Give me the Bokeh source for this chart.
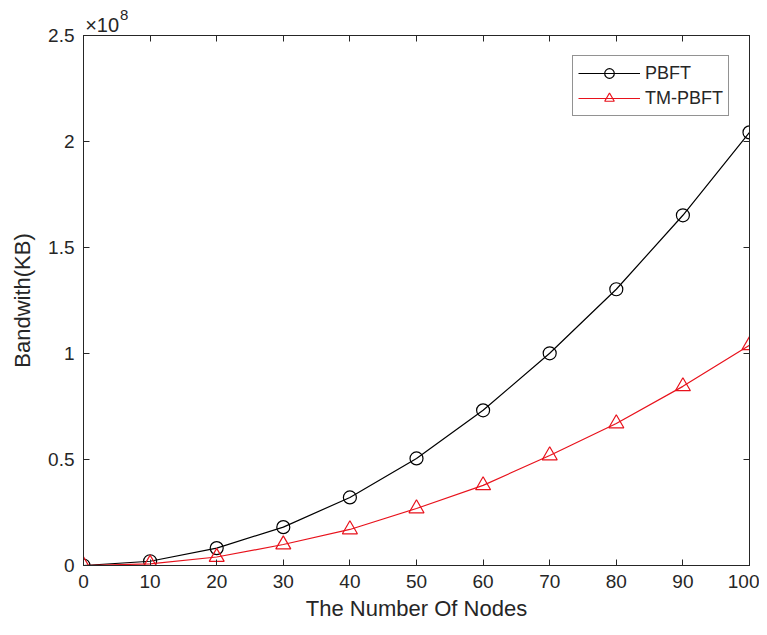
from bokeh.plotting import figure
from bokeh.models import (FixedTicker, LinearAxis, Legend, LegendItem,
                          CustomJSTickFormatter, Range1d)
from bokeh.embed import file_html
from bokeh.resources import INLINE

# ---- data (bandwidth in units of 1e8 KB) ----
nodes = [0, 10, 20, 30, 40, 50, 60, 70, 80, 90, 100]
pbft_bandwidth = [0, 0.02, 0.082, 0.181, 0.321, 0.505, 0.732, 1.001, 1.303, 1.652, 2.043]
tm_pbft_bandwidth = [0, 0.008, 0.04, 0.099, 0.17, 0.269, 0.378, 0.519, 0.670, 0.845, 1.039]
x_ticks = [0, 10, 20, 30, 40, 50, 60, 70, 80, 90, 100]
y_ticks = [0, 0.5, 1, 1.5, 2, 2.5]
series_names = ["PBFT", "TM-PBFT"]
exponent_base = "×10"
exponent_power = "8"
exponent_base_at = 2.8     # x (data) where the "×10" text is centred
exponent_power_at = 6.1    # x (data) where the superscript "8" is centred

FONT = "Liberation Sans"
TXT = "#262626"
RED = "#e8121c"

p = figure(width=759, height=627, x_range=Range1d(0, 100), y_range=Range1d(0, 2.5),
           output_backend="svg", toolbar_location=None,
           min_border_left=83, min_border_right=10, min_border_top=35, min_border_bottom=62)
p.background_fill_color = "white"
p.border_fill_color = "white"
p.outline_line_color = TXT
p.outline_line_width = 1
p.xgrid.visible = False
p.ygrid.visible = False

fmt = CustomJSTickFormatter(code="return tick.toString();")
blank = CustomJSTickFormatter(code="return '';")

def style(ax, ticks, formatter, labels=True):
    ax.ticker = FixedTicker(ticks=ticks)
    ax.formatter = formatter
    ax.axis_line_color = TXT
    ax.axis_line_width = 1
    ax.major_tick_line_color = TXT
    ax.major_tick_in = 6
    ax.major_tick_out = 0
    ax.minor_tick_line_color = None
    ax.major_label_text_font = FONT
    ax.major_label_text_color = TXT
    ax.major_label_text_font_size = "19px" if labels else "0px"
    if not labels:
        ax.major_label_standoff = 0

style(p.xaxis[0], x_ticks, fmt)
style(p.yaxis[0], y_ticks, fmt)
p.xaxis[0].major_label_standoff = 9
p.yaxis[0].major_label_standoff = 9
p.xaxis.axis_label = "The Number Of Nodes"
p.yaxis.axis_label = "Bandwith(KB)"
for ax in (p.xaxis[0], p.yaxis[0]):
    ax.axis_label_text_font = FONT
    ax.axis_label_text_font_size = "22px"
    ax.axis_label_text_font_style = "normal"
    ax.axis_label_text_color = TXT
p.xaxis[0].axis_label_standoff = 5
p.yaxis[0].axis_label_standoff = 10

top_ax = LinearAxis()
style(top_ax, x_ticks, blank, labels=False)
p.add_layout(top_ax, "above")
right_ax = LinearAxis()
style(right_ax, y_ticks, blank, labels=False)
p.add_layout(right_ax, "right")

# exponent "×10^8": two invisible top axes that only carry one text each
def text_axis(at, text, size, standoff):
    ax = LinearAxis(ticker=FixedTicker(ticks=[at]),
                    formatter=CustomJSTickFormatter(code="return %r;" % text))
    ax.axis_line_color = None
    ax.major_tick_line_color = None
    ax.minor_tick_line_color = None
    ax.major_tick_in = 0
    ax.major_tick_out = 0
    ax.major_label_standoff = standoff
    ax.major_label_text_font = FONT
    ax.major_label_text_font_size = size
    ax.major_label_text_color = TXT
    return ax

p.add_layout(text_axis(exponent_base_at, exponent_base, "20px", 0), "above")
p.add_layout(text_axis(exponent_power_at, exponent_power, "15px", -9), "above")

l1 = p.line(nodes, pbft_bandwidth, line_color="black", line_width=1.2)
m1 = p.scatter(nodes, pbft_bandwidth, marker="circle", size=13, fill_color=None,
               line_color="black", line_width=1.2)
l2 = p.line(nodes, tm_pbft_bandwidth, line_color=RED, line_width=1.2)
m2 = p.scatter(nodes, tm_pbft_bandwidth, marker="triangle", size=15, fill_color=None,
               line_color=RED, line_width=1.2)

legend = Legend(items=[LegendItem(label=series_names[0], renderers=[l1, m1]),
                       LegendItem(label=series_names[1], renderers=[l2, m2])],
                location="top_right", margin=20, padding=5, spacing=1,
                glyph_width=62, glyph_height=24, label_height=24, label_standoff=5,
                label_text_font=FONT, label_text_font_size="18px", label_text_color=TXT,
                border_line_color=TXT, border_line_width=1, background_fill_alpha=1)
p.add_layout(legend)

open("out.html", "w").write(file_html(p, INLINE))
